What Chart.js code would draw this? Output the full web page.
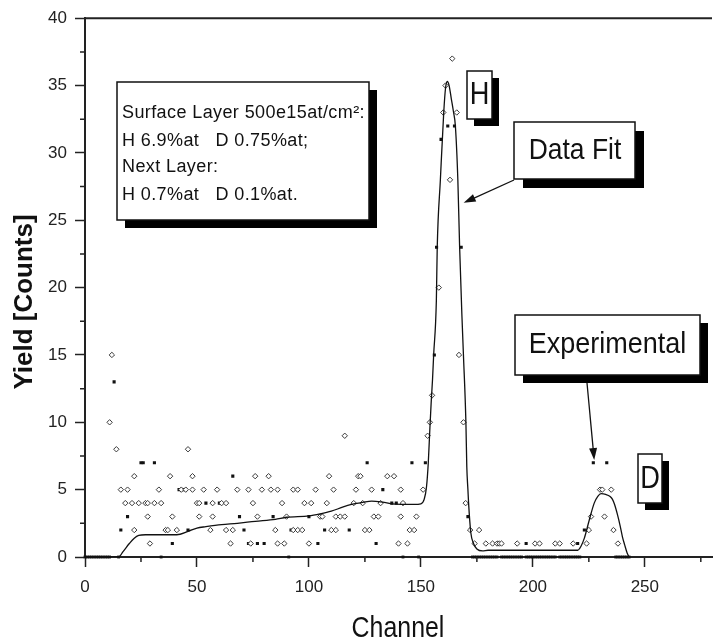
<!DOCTYPE html>
<html lang="en">
<head>
<meta charset="UTF-8">
<title>Yield [Counts] vs Channel</title>
<script src="https://cdn.jsdelivr.net/npm/chart.js@4.4.1/dist/chart.umd.min.js"></script>
<style>
  html, body { margin: 0; padding: 0; background: #fff; }
  canvas { display: block; }
</style>
</head>
<body>
<canvas id="myChart" width="717" height="641"></canvas>
<script>
// experimental points, open diamonds (grouped by count)
const openCh = [
  12, 167,
  11, 154, 169,
  155,
  14, 46,
  116, 153,
  22, 38, 48, 76, 82, 109, 122, 123, 135, 138,
  16, 19, 33, 43, 45, 48, 53, 59, 68, 73, 79, 83, 86, 93, 95, 103, 111, 121, 128, 141, 151, 230, 231, 235,
  18, 21, 24, 27, 28, 31, 34, 50, 51, 57, 61, 63, 75, 88, 98, 101, 108, 120, 124, 132, 142, 170,
  28, 39, 51, 57, 77, 90, 105, 106, 112, 114, 116, 129, 131, 141, 148, 226, 232,
  22, 36, 37, 41, 56, 63, 66, 85, 93, 95, 97, 110, 112, 125, 127, 145, 147, 172, 176, 225, 236,
  29, 65, 74, 86, 89, 100, 140, 144, 174, 179, 182, 184, 185, 186, 193, 201, 203, 210, 212, 218, 224, 238,
  158, 163, 160, 166, 161, 164
];
const openCounts = [
  15, 15,
  10, 10, 10,
  12,
  8, 8,
  9, 9,
  6, 6, 6, 6, 6, 6, 6, 6, 6, 6,
  5, 5, 5, 5, 5, 5, 5, 5, 5, 5, 5, 5, 5, 5, 5, 5, 5, 5, 5, 5, 5, 5, 5, 5,
  4, 4, 4, 4, 4, 4, 4, 4, 4, 4, 4, 4, 4, 4, 4, 4, 4, 4, 4, 4, 4, 4,
  3, 3, 3, 3, 3, 3, 3, 3, 3, 3, 3, 3, 3, 3, 3, 3, 3,
  2, 2, 2, 2, 2, 2, 2, 2, 2, 2, 2, 2, 2, 2, 2, 2, 2, 2, 2, 2, 2,
  1, 1, 1, 1, 1, 1, 1, 1, 1, 1, 1, 1, 1, 1, 1, 1, 1, 1, 1, 1, 1, 1,
  20, 28, 33, 33, 35, 37
];

// experimental points, filled marks (overlapping counts)
const fillCh = [
  13,
  25, 26, 31, 126, 146, 152, 227, 233,
  66,
  42, 44, 133,
  54, 60, 137, 139,
  19, 69, 84, 100, 171,
  16, 46, 71, 92, 107, 118, 145, 223,
  39, 73, 77, 80, 104, 130, 197, 220,
  156, 157, 168, 159, 162, 165
];
const fillCounts = [
  13,
  7, 7, 7, 7, 7, 7, 7, 7,
  6,
  5, 5, 5,
  4, 4, 4, 4,
  3, 3, 3, 3, 3,
  2, 2, 2, 2, 2, 2, 2, 2,
  1, 1, 1, 1, 1, 1, 1, 1,
  15, 23, 23, 31, 32, 32
];

// channels with zero counts
const zeroCh = [
  0, 1, 2, 3, 4, 5, 6, 7, 8, 9, 10, 11, 15, 34, 91, 142, 149,
  173, 174, 175, 176, 177, 178, 179, 180, 181, 182, 183, 184,
  186, 187, 188, 189, 190, 191, 192, 193, 194, 195,
  197, 198, 199, 200, 201, 202, 203, 204, 205, 206, 207, 208, 209, 210,
  212, 213, 214, 215, 216, 217, 218, 219, 220, 221,
  237, 238, 239, 240, 241, 242, 243
];

// data fit curve
const fitCh = [0, 15, 17, 19.8, 22, 24, 27, 41, 46, 50, 54, 61, 68, 76, 85, 90, 100, 105, 110, 115,
  119, 124, 128, 132, 137, 147, 150, 151.5, 152.5, 153.3, 154, 154.6, 155.2, 155.7, 156.9,
  157.3, 158.7, 160.2, 161, 161.8, 162.6, 163.6, 164.6, 165.4, 166.5, 167.3, 168.3, 169,
  170.1, 170.5, 171, 171.3, 172.3, 173.5, 175, 177.5, 180, 220, 221.5, 223, 225.2, 227.4,
  229, 230.5, 232.5, 234.5, 235.5, 236.5, 237.7, 239, 240, 241, 242.1, 243];
const fitCounts = [0, 0, 0.4, 1.0, 1.4, 1.6, 1.65, 1.65, 1.9, 2.15, 2.25, 2.4, 2.5, 2.65, 2.8, 2.95, 3.05, 3.2, 3.4, 3.7,
  3.9, 4.05, 4.15, 4.1, 3.95, 3.9, 3.95, 4.3, 5.2, 7, 9.5, 11.5, 13.2, 15, 19,
  23, 28, 33, 34.8, 35.3, 35, 34, 33, 32, 28, 23, 18, 15,
  10, 6.7, 5, 4, 1.8, 1, 0.6, 0.45, 0.5, 0.5, 0.8, 1.4, 2.75, 4.0,
  4.5, 4.7, 4.65, 4.5, 4.3, 3.9, 3.2, 2.3, 1.5, 0.9, 0.3, 0];

const xTicks = [0, 50, 100, 150, 200, 250];
const xMinor = [25, 75, 125, 175, 225, 275];
const yMinor = [2.5, 7.5, 12.5, 17.5, 22.5, 27.5, 32.5, 37.5];

const FONT = '"Liberation Sans", Arial, sans-serif';
Chart.defaults.font.family = FONT;

function pairs(xs, ys) {
  return xs.map((x, i) => ({ x: x, y: ys[i] }));
}

function drawBox(ctx, x1, y1, x2, y2, off) {
  ctx.fillStyle = '#000';
  ctx.fillRect(x1 + off, y1 + off, x2 - x1, y2 - y1);
  ctx.fillStyle = '#fff';
  ctx.fillRect(x1, y1, x2 - x1, y2 - y1);
  ctx.strokeStyle = '#111';
  ctx.lineWidth = 1.5;
  ctx.strokeRect(x1, y1, x2 - x1, y2 - y1);
}

function drawText(ctx, txt, x, y, size, sx, weight) {
  ctx.save();
  ctx.translate(x, y);
  ctx.scale(sx, 1);
  ctx.font = (weight || 'normal') + ' ' + size + 'px ' + FONT;
  ctx.fillStyle = '#111';
  ctx.textAlign = 'center';
  ctx.textBaseline = 'middle';
  ctx.fillText(txt, 0, 0);
  ctx.restore();
}

function drawArrow(ctx, x1, y1, x2, y2) {
  const ang = Math.atan2(y2 - y1, x2 - x1);
  const len = 12, w = 4;
  ctx.strokeStyle = '#111';
  ctx.lineWidth = 1.3;
  ctx.beginPath();
  ctx.moveTo(x1, y1);
  ctx.lineTo(x2 - Math.cos(ang) * len * 0.8, y2 - Math.sin(ang) * len * 0.8);
  ctx.stroke();
  ctx.fillStyle = '#111';
  ctx.beginPath();
  ctx.moveTo(x2, y2);
  ctx.lineTo(x2 - Math.cos(ang) * len - Math.sin(ang) * w, y2 - Math.sin(ang) * len + Math.cos(ang) * w);
  ctx.lineTo(x2 - Math.cos(ang) * len + Math.sin(ang) * w, y2 - Math.sin(ang) * len - Math.cos(ang) * w);
  ctx.closePath();
  ctx.fill();
}

const decor = {
  id: 'decor',
  afterDraw(chart) {
    const ctx = chart.ctx, a = chart.chartArea;
    const xs = chart.scales.x, ys = chart.scales.y;
    ctx.save();
    // top frame line
    ctx.strokeStyle = '#222';
    ctx.lineWidth = 2;
    ctx.beginPath();
    ctx.moveTo(a.left, a.top);
    ctx.lineTo(a.right, a.top);
    ctx.stroke();
    // minor ticks
    ctx.lineWidth = 1.5;
    ctx.beginPath();
    xMinor.forEach(v => {
      const p = xs.getPixelForValue(v);
      ctx.moveTo(p, a.bottom);
      ctx.lineTo(p, a.bottom + 5);
    });
    yMinor.forEach(v => {
      const p = ys.getPixelForValue(v);
      ctx.moveTo(a.left, p);
      ctx.lineTo(a.left - 5, p);
    });
    ctx.stroke();

    // axis titles
    ctx.save();
    ctx.translate(25, 302);
    ctx.rotate(-Math.PI / 2);
    ctx.font = 'bold 26px ' + FONT;
    ctx.fillStyle = '#111';
    ctx.textAlign = 'center';
    ctx.textBaseline = 'middle';
    ctx.fillText('Yield [Counts]', 0, 0);
    ctx.restore();
    drawText(ctx, 'Channel', 398, 629, 30, 0.83);

    // info box
    drawBox(ctx, 117, 82, 369, 220, 8);
    ctx.save();
    ctx.font = '18px ' + FONT;
    ctx.letterSpacing = '0.4px';
    ctx.fillStyle = '#111';
    ctx.textAlign = 'left';
    ctx.textBaseline = 'middle';
    ctx.fillText('Surface Layer 500e15at/cm\u00B2:', 122, 113);
    ctx.fillText('H 6.9%at   D 0.75%at;', 122, 141);
    ctx.fillText('Next Layer:', 122, 167);
    ctx.fillText('H 0.7%at   D 0.1%at.', 122, 195);
    ctx.restore();

    // peak labels
    drawBox(ctx, 467, 71, 492, 119, 7);
    drawText(ctx, 'H', 479.5, 95, 32, 0.85);
    drawBox(ctx, 638, 454, 662, 503, 7);
    drawText(ctx, 'D', 650, 479, 32, 0.85);

    // callouts
    drawBox(ctx, 514, 122, 635, 179, 9);
    drawText(ctx, 'Data Fit', 575, 151, 30, 0.88);
    drawArrow(ctx, 514, 180, xs.getPixelForValue(169.1), ys.getPixelForValue(26.3));
    drawBox(ctx, 515, 315, 700, 375, 8);
    drawText(ctx, 'Experimental', 607.5, 345, 30, 0.9);
    drawArrow(ctx, 587, 383, xs.getPixelForValue(227.4), ys.getPixelForValue(7.2));
    ctx.restore();
  }
};

new Chart('myChart', {
  type: 'scatter',
  data: {
    datasets: [
      {
        label: 'Data Fit',
        data: pairs(fitCh, fitCounts),
        showLine: true,
        borderColor: '#111',
        borderWidth: 1.3,
        pointRadius: 0,
        cubicInterpolationMode: 'monotone',
        order: 0
      },
      {
        label: 'Experimental',
        data: pairs(openCh, openCounts),
        pointStyle: 'rectRot',
        pointRadius: 2.7,
        borderWidth: 1,
        borderColor: '#3a3a3a',
        backgroundColor: '#fff',
        order: 1
      },
      {
        label: 'Experimental (filled)',
        data: pairs(fillCh, fillCounts),
        pointStyle: 'rect',
        pointRadius: 2.2,
        borderWidth: 0,
        backgroundColor: '#111',
        order: 1
      },
      {
        label: 'Zero counts',
        data: zeroCh.map(c => ({ x: c, y: 0 })),
        pointStyle: 'rect',
        pointRadius: 2,
        borderWidth: 0,
        backgroundColor: '#111',
        clip: false,
        order: 1
      }
    ]
  },
  options: {
    responsive: false,
    animation: false,
    layout: { padding: { top: 18, right: 0, bottom: 0, left: 0 } },
    plugins: { legend: { display: false }, tooltip: { enabled: false } },
    scales: {
      x: {
        type: 'linear',
        min: 0,
        max: 280,
        afterFit: s => { s.height = 84; },
        afterBuildTicks: s => { s.ticks = xTicks.map(v => ({ value: v })); },
        grid: { drawOnChartArea: false, tickLength: 10, tickWidth: 1.5, tickColor: '#222' },
        border: { color: '#222', width: 2 },
        ticks: { font: { size: 17 }, color: '#222', padding: 10, maxRotation: 0 }
      },
      y: {
        min: 0,
        max: 40,
        afterFit: s => { s.width = 85; },
        ticks: { stepSize: 5, font: { size: 17 }, color: '#222', padding: 8 },
        grid: { drawOnChartArea: false, tickLength: 10, tickWidth: 1.5, tickColor: '#222' },
        border: { color: '#222', width: 2 }
      }
    }
  },
  plugins: [decor]
});
</script>
</body>
</html>
